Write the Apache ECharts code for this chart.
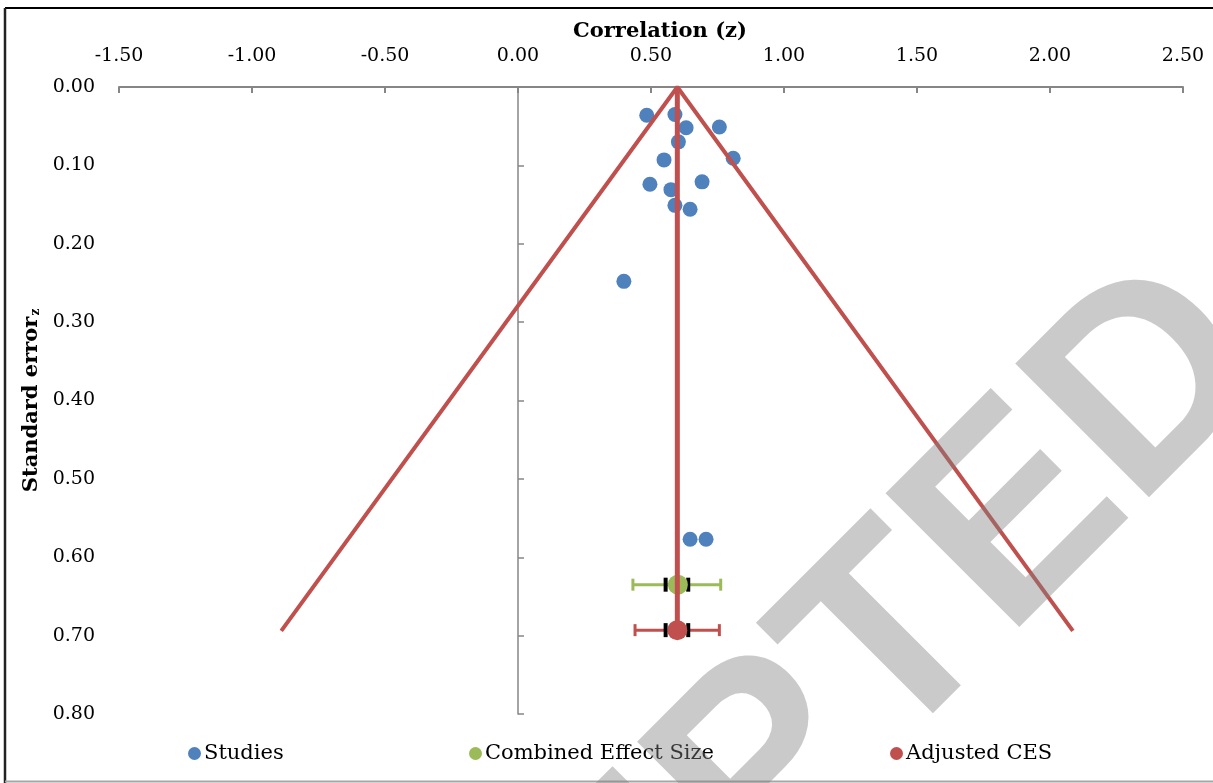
<!DOCTYPE html>
<html>
<head>
<meta charset="utf-8">
<script src="https://cdn.jsdelivr.net/npm/echarts@6/dist/echarts.min.js"></script>
<style>
  html, body { margin: 0; padding: 0; background: #fff; }
  #chart { width: 1213px; height: 783px; }
</style>
</head>
<body>
<div id="chart"></div>
<script>
// study effects (Fisher z) and their standard errors
const studyZ  = [0.484, 0.590, 0.632, 0.757, 0.603, 0.549, 0.809, 0.496, 0.692, 0.575, 0.590, 0.647, 0.398, 0.647, 0.707];
const studySE = [0.036, 0.035, 0.052, 0.051, 0.070, 0.093, 0.091, 0.124, 0.121, 0.131, 0.151, 0.156, 0.248, 0.577, 0.577];

// combined / adjusted effect sizes: [z, se], outer CI [lo, hi], inner marks [lo, hi]
const combinedPoint = [0.601, 0.635];
const combinedCI    = [0.432, 0.762];
const combinedInner = [0.555, 0.640];
const adjustedPoint = [0.599, 0.693];
const adjustedCI    = [0.440, 0.757];
const adjustedInner = [0.555, 0.640];

// funnel outline
const funnelZ  = [-0.89, 0.599, 2.086];
const funnelSE = [0.694, 0, 0.694];

const xMin = -1.5, xMax = 2.5, xStep = 0.5;
const yMin = 0, yMax = 0.8, yStep = 0.1;

const FONT = '"DejaVu Serif", serif';
const BLUE = '#4f81bd', GREEN = '#9bbb59', RED = '#c0504d', AXIS = '#868686';

const chart = echarts.init(document.getElementById('chart'));

function errorBar(color) {
  return function (params, api) {
    const se = api.value(4);
    const lo = api.coord([api.value(0), se]);
    const hi = api.coord([api.value(1), se]);
    const il = api.coord([api.value(2), se]);
    const ih = api.coord([api.value(3), se]);
    const ln = (x1, y1, x2, y2, c, w) => ({
      type: 'line', shape: { x1, y1, x2, y2 }, style: { stroke: c, lineWidth: w }
    });
    return {
      type: 'group',
      children: [
        ln(lo[0], lo[1], hi[0], hi[1], color, 3),
        ln(lo[0], lo[1] - 6, lo[0], lo[1] + 6, color, 3),
        ln(hi[0], hi[1] - 6, hi[0], hi[1] + 6, color, 3),
        ln(il[0], il[1] - 7, il[0], il[1] + 7, '#000', 4),
        ln(ih[0], ih[1] - 7, ih[0], ih[1] + 7, '#000', 4)
      ]
    };
  };
}

const legendBase = {
  orient: 'horizontal',
  top: 738,
  icon: 'circle',
  itemWidth: 13,
  itemHeight: 13,
  itemGap: 5,
  selectedMode: false,
  textStyle: { fontFamily: FONT, fontSize: 21, color: '#000', padding: [0, 0, 0, -2] }
};

const option = {
  animation: false,
  backgroundColor: '#fff',
  grid: { left: 119, right: 30, top: 87, bottom: 69 },
  legend: [
    Object.assign({}, legendBase, { data: ['Studies'], left: 183 }),
    Object.assign({}, legendBase, { data: ['Combined Effect Size'], left: 464 }),
    Object.assign({}, legendBase, { data: ['Adjusted CES'], left: 885 })
  ],
  xAxis: {
    type: 'value',
    position: 'top',
    min: xMin, max: xMax, interval: xStep,
    name: 'Correlation (z)',
    nameLocation: 'middle',
    nameGap: 44,
    nameTextStyle: { fontFamily: FONT, fontWeight: 'bold', fontSize: 21, color: '#000', padding: [0, 0, 0, 18] },
    axisLine: { show: true, onZero: false, lineStyle: { color: AXIS, width: 2 } },
    axisTick: { show: true, inside: true, length: 6, lineStyle: { color: AXIS, width: 2 } },
    axisLabel: { margin: 21, fontFamily: FONT, fontSize: 19, color: '#000', formatter: v => v.toFixed(2) },
    splitLine: { show: false }
  },
  yAxis: [
    {
      type: 'value',
      inverse: true,
      position: 'left',
      min: yMin, max: yMax, interval: yStep,
      name: '{a|Standard error}{b|z}',
      nameLocation: 'middle',
      nameRotate: 90,
      nameGap: 72,
      nameTextStyle: {
        rich: {
          a: { fontFamily: FONT, fontWeight: 'bold', fontSize: 21, color: '#000' },
          b: { fontFamily: FONT, fontWeight: 'bold', fontSize: 12, color: '#000', verticalAlign: 'bottom', padding: [6, 0, 0, 1] }
        }
      },
      axisLine: { show: false, onZero: false },
      axisTick: { show: false },
      axisLabel: { margin: 24, fontFamily: FONT, fontSize: 19, color: '#000', formatter: v => v.toFixed(2) },
      splitLine: { show: false }
    },
    {
      type: 'value',
      inverse: true,
      position: 'left',
      min: yMin, max: yMax, interval: yStep,
      axisLine: { show: true, onZero: true, lineStyle: { color: AXIS, width: 1.5 } },
      axisTick: { show: true, inside: true, length: 6, lineStyle: { color: AXIS, width: 1.5 } },
      axisLabel: { show: false },
      splitLine: { show: false }
    }
  ],
  series: [
    {
      name: 'funnel',
      type: 'line',
      data: funnelZ.map((z, i) => [z, funnelSE[i]]),
      symbol: 'none',
      lineStyle: { color: RED, width: 4 },
      silent: true
    },
    {
      name: 'centre',
      type: 'line',
      data: [[adjustedPoint[0], 0], adjustedPoint],
      symbol: 'none',
      lineStyle: { color: RED, width: 5 },
      silent: true
    },
    {
      name: 'combinedBar',
      type: 'custom',
      renderItem: errorBar(GREEN),
      encode: { x: [0, 1, 2, 3], y: 4 },
      data: [[combinedCI[0], combinedCI[1], combinedInner[0], combinedInner[1], combinedPoint[1]]],
      silent: true
    },
    {
      name: 'adjustedBar',
      type: 'custom',
      renderItem: errorBar(RED),
      encode: { x: [0, 1, 2, 3], y: 4 },
      data: [[adjustedCI[0], adjustedCI[1], adjustedInner[0], adjustedInner[1], adjustedPoint[1]]],
      silent: true
    },
    {
      name: 'Studies',
      type: 'scatter',
      data: studyZ.map((z, i) => [z, studySE[i]]),
      symbolSize: 15,
      itemStyle: { color: BLUE, opacity: 1 }
    },
    {
      name: 'Combined Effect Size',
      type: 'scatter',
      data: [combinedPoint],
      symbolSize: 20,
      itemStyle: { color: GREEN, opacity: 1 }
    },
    {
      name: 'Adjusted CES',
      type: 'scatter',
      data: [adjustedPoint],
      symbolSize: 20,
      itemStyle: { color: RED, opacity: 1 }
    }
  ],
  graphic: [
    { type: 'line', silent: true, shape: { x1: 5, y1: 8, x2: 1213, y2: 8 }, style: { stroke: '#000', lineWidth: 2 } },
    { type: 'line', silent: true, shape: { x1: 5, y1: 8, x2: 5, y2: 783 }, style: { stroke: '#222', lineWidth: 2.5 } },
    { type: 'line', silent: true, shape: { x1: 5, y1: 781.5, x2: 1213, y2: 781.5 }, style: { stroke: '#a6a6a6', lineWidth: 2 } },
    {
      type: 'text',
      silent: true,
      z: 100,
      x: 688,
      y: 851,
      rotation: Math.PI / 4,
      style: {
        text: 'ACCEPTED',
        font: 'bold 275px "Liberation Sans", Arial, sans-serif',
        fill: 'rgba(128,128,128,0.42)',
        align: 'center',
        verticalAlign: 'middle',
        textAlign: 'center',
        textVerticalAlign: 'middle'
      }
    }
  ]
};

chart.setOption(option);
</script>
</body>
</html>
